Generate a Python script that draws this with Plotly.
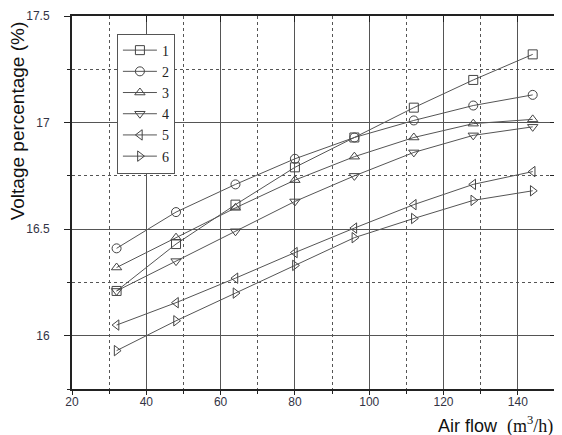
import plotly.graph_objects as go

air_flow = [32, 48, 64, 80, 96, 112, 128, 144]
series_names = ["1", "2", "3", "4", "5", "6"]
s1 = [16.21, 16.43, 16.615, 16.79, 16.93, 17.07, 17.20, 17.32]
s2 = [16.41, 16.58, 16.71, 16.83, 16.93, 17.01, 17.08, 17.13]
s3 = [16.32, 16.46, 16.60, 16.73, 16.84, 16.93, 16.995, 17.015]
s4 = [16.21, 16.35, 16.49, 16.63, 16.75, 16.86, 16.94, 16.98]
s5 = [16.05, 16.155, 16.27, 16.39, 16.505, 16.615, 16.71, 16.77]
s6 = [15.93, 16.07, 16.20, 16.33, 16.46, 16.55, 16.635, 16.68]
values = [s1, s2, s3, s4, s5, s6]
symbols = ["square-open", "circle-open", "triangle-up-open", "triangle-down-open",
           "triangle-left-open", "triangle-right-open"]

fig = go.Figure()
for name, ys, sym in zip(series_names, values, symbols):
    fig.add_trace(go.Scatter(
        x=air_flow, y=ys, name=name, mode="lines+markers",
        line=dict(color="#555555", width=1),
        marker=dict(symbol=sym, size=9, color="#444444", line=dict(color="#444444", width=1)),
    ))

# invisible trace to host the mirrored axes
fig.add_trace(go.Scatter(x=[20], y=[15.75], xaxis="x2", yaxis="y2", showlegend=False,
                         mode="markers", marker=dict(opacity=0), hoverinfo="skip"))

tickfont = dict(family="Liberation Sans, Arial", size=12, color="#333344")
fig.update_layout(
    width=554, height=427,
    margin=dict(l=64, r=7, t=8, b=46, autoexpand=False),
    paper_bgcolor="white", plot_bgcolor="white",
    showlegend=True,
    legend=dict(
        x=0.093, y=0.953, xanchor="left", yanchor="top",
        bordercolor="#555555", borderwidth=1, bgcolor="white",
        font=dict(family="Liberation Serif, DejaVu Serif", size=14, color="#222222"),
        itemwidth=34, tracegroupgap=0,
    ),
    xaxis=dict(
        range=[20, 150], dtick=20, tick0=20, automargin=False,
        showline=True, linecolor="#222222", linewidth=2,
        ticks="outside", ticklen=4, tickcolor="#222222",
        showgrid=True, gridcolor="#555555", gridwidth=1,
        minor=dict(dtick=10, tick0=20, showgrid=True, gridcolor="#555555",
                   griddash="dot", ticks="outside", ticklen=3, tickcolor="#222222"),
        tickfont=tickfont, zeroline=False, ticklabelstandoff=-3,
    ),
    yaxis=dict(
        range=[15.75, 17.5], automargin=False,
        showline=True, linecolor="#222222", linewidth=2,
        ticks="outside", ticklen=6, tickcolor="#222222",
        showgrid=True, gridcolor="#555555", gridwidth=1,
        minor=dict(dtick=0.25, tick0=16, showgrid=True, gridcolor="#555555",
                   griddash="dot", ticks="outside", ticklen=3, tickcolor="#222222"),
        tickfont=tickfont, zeroline=False, ticklabelstandoff=12,
        tickvals=[16, 16.5, 17, 17.5], ticktext=["16", "16.5", "17", "17.5"],
    ),
    xaxis2=dict(
        overlaying="x", side="top", range=[20, 150], dtick=20, tick0=20, automargin=False,
        showline=True, linecolor="#222222", linewidth=1.5,
        ticks="inside", ticklen=6, tickcolor="#222222",
        showticklabels=False, showgrid=False, zeroline=False,
    ),
    yaxis2=dict(
        overlaying="y", side="right", range=[15.75, 17.5], dtick=0.25, tick0=16, automargin=False,
        showline=True, linecolor="#222222", linewidth=1.5,
        ticks="inside", ticklen=5, tickcolor="#222222",
        showticklabels=False, showgrid=False, zeroline=False,
    ),
    annotations=[
        dict(text="Voltage percentage (%)", xref="paper", yref="paper",
             x=-0.112, y=0.72, xanchor="center", yanchor="middle", textangle=-90,
             showarrow=False,
             font=dict(family="Liberation Sans, Arial", size=19, color="#111111")),
        dict(text="Air flow  <span style='font-family:Liberation Serif'>(m<sup>3</sup>/h)</span>",
             xref="paper", yref="paper", x=1.0, y=-0.097, xanchor="right", yanchor="middle",
             showarrow=False,
             font=dict(family="Liberation Sans, Arial", size=18, color="#111111")),
    ],
)

fig.write_html("out.html")
